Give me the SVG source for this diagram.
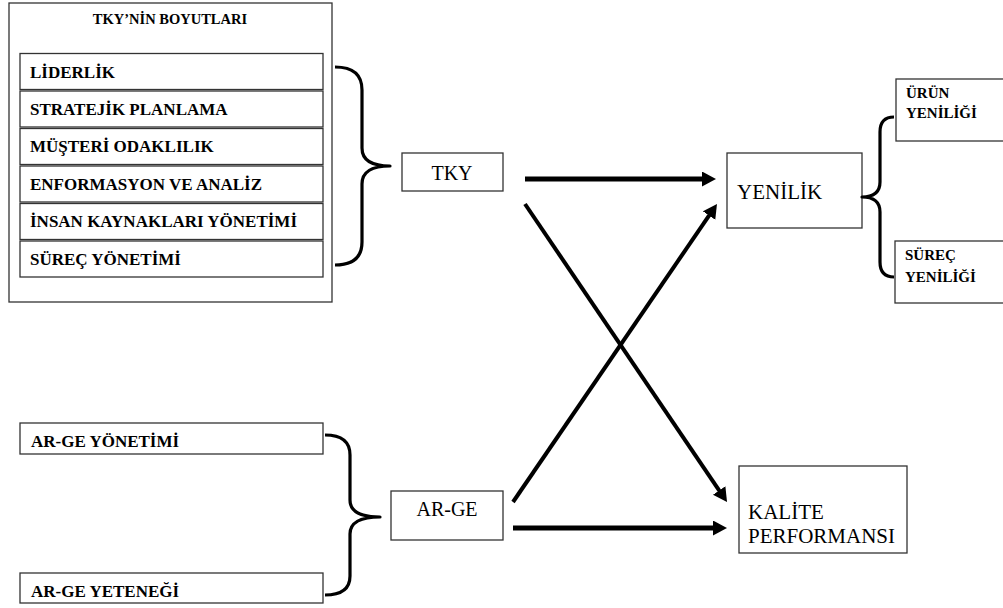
<svg xmlns="http://www.w3.org/2000/svg" width="1003" height="608" viewBox="0 0 1003 608" font-family="Liberation Serif, DejaVu Serif, Noto Serif, Times New Roman, serif">
<style>
.box{fill:#fff;stroke:#333;stroke-width:1.3}
.b{font-weight:bold;font-size:17px;fill:#000}
.s{font-weight:bold;font-size:15px;fill:#000}
.r{font-size:21px;fill:#000}
.brace{fill:none;stroke:#000;stroke-width:3.2;stroke-linejoin:round}
.arr{fill:none;stroke:#000;marker-end:url(#ah)}
</style>
<defs>
<marker id="ah" markerUnits="userSpaceOnUse" markerWidth="16" markerHeight="16" refX="2" refY="7.5" orient="auto">
<path d="M0,0 L14,7.5 L0,15 z" fill="#000"/>
</marker>
</defs>
<rect width="1003" height="608" fill="#fff"/>
<g id="tky-boyutlari">
<rect class="box" x="9" y="3" width="323" height="299"/>
<text class="b" x="170" y="24" text-anchor="middle" font-family="Liberation Serif, serif" style="font-size:14.5px">TKY’NİN BOYUTLARI</text>
<rect class="box" x="20" y="53.5" width="303" height="36"/>
<text class="b" x="30" y="78" font-family="Liberation Serif, serif">LİDERLİK</text>
<rect class="box" x="20" y="91" width="303" height="36"/>
<text class="b" x="30" y="115" font-family="Liberation Serif, serif">STRATEJİK PLANLAMA</text>
<rect class="box" x="20" y="128.5" width="303" height="36"/>
<text class="b" x="30" y="152" font-family="Liberation Serif, serif">MÜŞTERİ ODAKLILIK</text>
<rect class="box" x="20" y="166" width="303" height="36"/>
<text class="b" x="30" y="190" font-family="Liberation Serif, serif">ENFORMASYON VE ANALİZ</text>
<rect class="box" x="20" y="203.5" width="303" height="36"/>
<text class="b" x="30" y="227" font-family="Liberation Serif, serif">İNSAN KAYNAKLARI YÖNETİMİ</text>
<rect class="box" x="20" y="241" width="303" height="36"/>
<text class="b" x="30" y="265" font-family="Liberation Serif, serif">SÜREÇ YÖNETİMİ</text>
</g>
<g id="tky">
<rect class="box" x="402" y="153" width="101" height="38"/>
<text class="r" x="452" y="180" text-anchor="middle" font-family="Liberation Serif, serif" style="font-size:20px">TKY</text>
</g>
<g id="yenilik">
<rect class="box" x="727" y="153" width="135" height="75"/>
<text class="r" x="737" y="199" font-family="Liberation Serif, serif">YENİLİK</text>
</g>
<g id="urun-yeniligi">
<rect class="box" x="896" y="79" width="120" height="62"/>
<text class="s" x="906" y="98" font-family="Liberation Serif, serif">ÜRÜN</text>
<text class="s" x="906" y="118" font-family="Liberation Serif, serif">YENİLİĞİ</text>
</g>
<g id="surec-yeniligi">
<rect class="box" x="895" y="241" width="120" height="62"/>
<text class="s" x="905" y="260" font-family="Liberation Serif, serif">SÜREÇ</text>
<text class="s" x="905" y="282" font-family="Liberation Serif, serif">YENİLİĞİ</text>
</g>
<g id="arge-yonetimi">
<rect class="box" x="20" y="423" width="303" height="31"/>
<text class="b" x="31" y="447" font-family="Liberation Serif, serif">AR-GE YÖNETİMİ</text>
</g>
<g id="arge-yetenegi">
<rect class="box" x="20" y="573" width="303" height="30"/>
<text class="b" x="31" y="597" font-family="Liberation Serif, serif">AR-GE YETENEĞİ</text>
</g>
<g id="arge">
<rect class="box" x="391" y="491" width="112" height="49"/>
<text class="r" x="447" y="516" text-anchor="middle" font-family="Liberation Serif, serif" style="font-size:20px">AR-GE</text>
</g>
<g id="kalite">
<rect class="box" x="739" y="466" width="168" height="87"/>
<text class="r" x="748" y="519" font-family="Liberation Serif, serif">KALİTE</text>
<text class="r" x="748" y="543" font-family="Liberation Serif, serif">PERFORMANSI</text>
</g>
<g id="connectors">
<path class="brace" d="M335,67 Q362,67 362,90 L362,148 Q362,166 390,166 Q362,166 362,184 L362,242 Q362,265 335,265"/>
<path class="brace" d="M894,117 Q880,117 880,132 L880,182 Q880,197 862,197 Q880,197 880,212 L880,262 Q880,277 894,277"/>
<path class="brace" d="M325,435 Q350,435 350,455 L350,500 Q350,517 380,517 Q350,517 350,534 L350,576 Q350,595 325,595"/>
<line class="arr" x1="525" y1="179" x2="704" y2="179" stroke-width="5"/>
<line class="arr" x1="525" y1="204" x2="720.3" y2="492.1" stroke-width="4"/>
<line class="arr" x1="513" y1="502" x2="710.2" y2="213.9" stroke-width="4"/>
<line class="arr" x1="513" y1="528" x2="715" y2="528" stroke-width="5"/>
</g>
</svg>
